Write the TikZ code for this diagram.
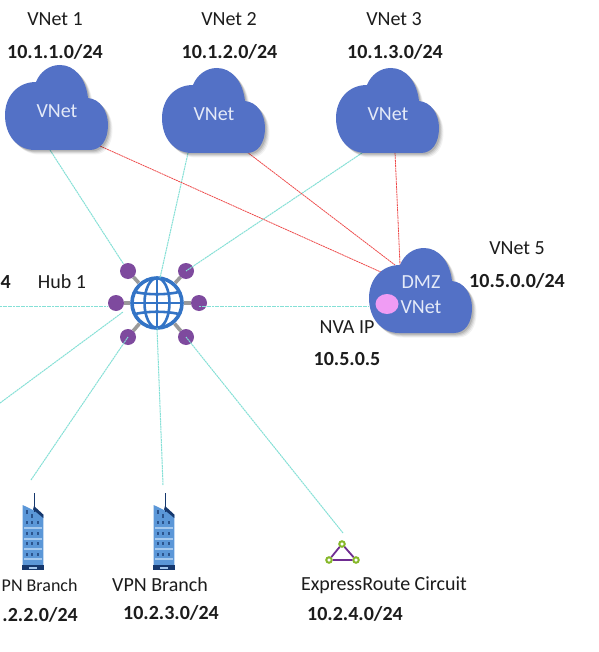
\documentclass[tikz,border=0pt]{standalone}
\usepackage{fontspec}
\usetikzlibrary{shapes.geometric}
\setmainfont{Carlito}
\definecolor{cloudblue}{HTML}{5371C6}
\definecolor{linkcyan}{HTML}{84E0D6}
\definecolor{linkred}{HTML}{EE4B4B}
\definecolor{globeblue}{HTML}{3374C6}
\definecolor{hubpurple}{HTML}{7E4A9E}
\definecolor{spokegrey}{HTML}{9A9A9A}
\definecolor{towerblue}{HTML}{5B97D8}
\definecolor{towerdark}{HTML}{16386E}
\definecolor{towerlight}{HTML}{A4C8EE}
\definecolor{erpurple}{HTML}{6F2C91}
\definecolor{ergreen}{HTML}{86B82A}
\definecolor{labelink}{HTML}{1C1C1C}
\definecolor{cloudtext}{HTML}{E4EAF8}
\definecolor{nvapink}{HTML}{F09CF4}
\newcommand{\cloudshape}{(85,85) -- (30,85) .. controls (12,85) and (0,70) .. (0,50) .. controls (0,32) and (12,17) .. (31,17) .. controls (35,7) and (44,0) .. (55,0) .. controls (70,0) and (81,14) .. (83,33) .. controls (95,34) and (103,46) .. (103,60) .. controls (103,75) and (96,85) .. (85,85) -- cycle}
\tikzset{
  x=1pt,y=-1pt,
  cloudpic/.pic={
    \foreach \o/\d in {0.05/4.5,0.07/3.5,0.09/2.5,0.12/1.5}{
      \fill[black,opacity=\o,shift={(\d,\d)}] \cloudshape;
    }
    \fill[cloudblue] \cloudshape;
  },
  towerpic/.pic={
    \fill[towerblue] (0.7,12) -- (21.3,22) -- (21.3,72) -- (0.7,72) -- cycle;
    \fill[towerdark] (12,13) -- (21.3,21.5) -- (21.3,25) -- (11,16.5) -- cycle;
    \draw[towerdark,line width=1.2] (12.3,0) -- (12.3,19);
    \fill[towerdark] (-0.3,72) rectangle (22.3,77);
    \fill[towerlight] (7,73.5) rectangle (15,76);
    \foreach \yy in {29,40,50,61}{
      \foreach \xx in {4.5,10,16}{ \fill[towerdark!70!towerblue] (\xx-1,\yy-1.5) rectangle (\xx+1,\yy+1.5); }
    }
    \foreach \yy in {35,46,56,66}{ \fill[towerlight] (2,\yy-0.7) rectangle (20,\yy+0.7); }
    \fill[towerdark!70!towerblue] (3.5,17) rectangle (5.5,21);
    \fill[towerdark!70!towerblue] (9,21) rectangle (11,25);
  },
  vlabel/.style={text=labelink,inner sep=0pt,font=\fontsize{20}{23}\selectfont},
  blabel/.style={text=labelink,inner sep=0pt,font=\fontsize{20}{23}\selectfont\bfseries},
  intext/.style={text=cloudtext,inner sep=0pt,font=\fontsize{20}{23}\selectfont},
  hubdot/.style={circle,fill=hubpurple,minimum size=16,inner sep=0pt},
  hublink/.style={draw=linkcyan,line width=1,dash pattern=on 2pt off 0.6pt},
  redlink/.style={draw=linkred,line width=0.8,dash pattern=on 2pt off 0.6pt},
  spoke/.style={draw=spokegrey,line width=3.6},
  globeline/.style={draw=globeblue,line width=2.6},
  ernode/.style={circle,draw=ergreen,fill=white,line width=2,minimum size=5.5,inner sep=0pt},
}
\begin{document}
\begin{tikzpicture}
\useasboundingbox (0,0) rectangle (598,652);
\clip (0,0) rectangle (598,652);
\fill[white] (0,0) rectangle (598,652);

% anchors for the connectors
\coordinate (v1s) at (50,150);   \coordinate (v1r) at (100,146);
\coordinate (v2s) at (188,153);  \coordinate (v2r) at (247,152);
\coordinate (v3s) at (362,153);  \coordinate (v3r) at (395,152);
\coordinate (dmzA) at (383,273); \coordinate (dmzB) at (395,265);
\coordinate (dmzC) at (400,265); \coordinate (dmzL) at (369,306);
\coordinate (leftA) at (0,306);  \coordinate (leftB) at (0,403);
\coordinate (b1top) at (31,480); \coordinate (b2top) at (163,485);
\coordinate (ertop) at (343,533);
\coordinate (h3e) at (108,306);  \coordinate (h4e) at (199,306);
\coordinate (h5e) at (123,312);

% hub
\coordinate (hubc) at (157,303);
\node[hubdot] (h1) at (128,271) {};
\node[hubdot] (h2) at (186,271) {};
\node[hubdot] (h3) at (116,303) {};
\node[hubdot] (h4) at (199,303) {};
\node[hubdot] (h5) at (128,337) {};
\node[hubdot] (h6) at (186,337) {};
\foreach \h in {h1,h2,h3,h4,h5,h6}{ \draw[spoke] (hubc) -- (\h); }
\node[circle,fill=white,minimum size=54,inner sep=0pt] (globe) at (hubc) {};
\draw[globeline,line width=3.6] (hubc) circle (25);
\draw[globeline] (hubc) ellipse (12.5 and 25);
\draw[globeline] (157,278) -- (157,328);
\draw[globeline] (132,303) -- (182,303);
\draw[globeline] (135,292) .. controls (148,295) and (166,295) .. (179,292);
\draw[globeline] (135,314) .. controls (148,311) and (166,311) .. (179,314);
\coordinate (gt) at (160,278); \coordinate (gb) at (157,328);

% connectors
\draw[hublink] (v1s) -- (h1);
\draw[hublink] (v2s) -- (gt);
\draw[hublink] (v3s) -- (h2.center);
\draw[hublink] (leftA) -- (h3e);
\draw[hublink] (h4e) -- (dmzL);
\draw[hublink] (leftB) -- (h5e);
\draw[hublink] (b1top) -- (h5.center);
\draw[hublink] (b2top) -- (gb);
\draw[hublink] (ertop) -- (h6.center);
\draw[redlink] (v1r) -- (dmzA);
\draw[redlink] (v2r) -- (dmzB);
\draw[redlink] (v3r) -- (dmzC);

% clouds
\pic at (5,65) {cloudpic};
\pic at (162,68) {cloudpic};
\pic at (336,68) {cloudpic};
\pic at (369,248) {cloudpic};
\node[intext] (c1) at (57,111) {VNet};
\node[intext] (c2) at (214,114) {VNet};
\node[intext] (c3) at (388,114) {VNet};
\node[intext] (c5a) at (421,282) {DMZ};
\node[intext] (c5b) at (421,307) {VNet};
\node[ellipse,fill=nvapink,minimum width=23,minimum height=20,inner sep=0pt] (nva) at (387,304) {};

% labels
\node[vlabel] (l1) at (55,19) {VNet 1};
\node[blabel] (a1) at (55,52) {10.1.1.0/24};
\node[vlabel] (l2) at (229,19) {VNet 2};
\node[blabel] (a2) at (229.5,52) {10.1.2.0/24};
\node[vlabel] (l3) at (394,19) {VNet 3};
\node[blabel] (a3) at (395,52) {10.1.3.0/24};
\node[vlabel] (l5) at (517,248) {VNet 5};
\node[blabel] (a5) at (517,281) {10.5.0.0/24};
\node[vlabel] (nvl) at (347,327) {NVA IP};
\node[blabel] (nva2) at (347,359) {10.5.0.5};
\node[vlabel] (hub) at (62,282) {Hub 1};
\node[blabel,anchor=east] (a0) at (11,282) {4};

% branches
\pic at (22,493) {towerpic};
\pic at (153,493) {towerpic};
\node[vlabel,anchor=west,font=\fontsize{18}{22}\selectfont] (b1) at (1.5,585) {PN Branch};
\node[vlabel] (b2) at (160,585) {VPN Branch};
\node[blabel,anchor=east] (a6) at (78,615) {.2.2.0/24};
\node[blabel] (a7) at (171,613) {10.2.3.0/24};

% expressroute
\node[ernode] (e1) at (342,544) {};
\node[ernode] (e2) at (329,560) {};
\node[ernode] (e3) at (356,560) {};
\draw[erpurple,line width=1.8] (e1) -- (e2) -- (e3) -- (e1);
\node[vlabel] (er) at (384,585) {ExpressRoute Circuit};
\node[blabel] (a8) at (355,614) {10.2.4.0/24};
\end{tikzpicture}
\end{document}
